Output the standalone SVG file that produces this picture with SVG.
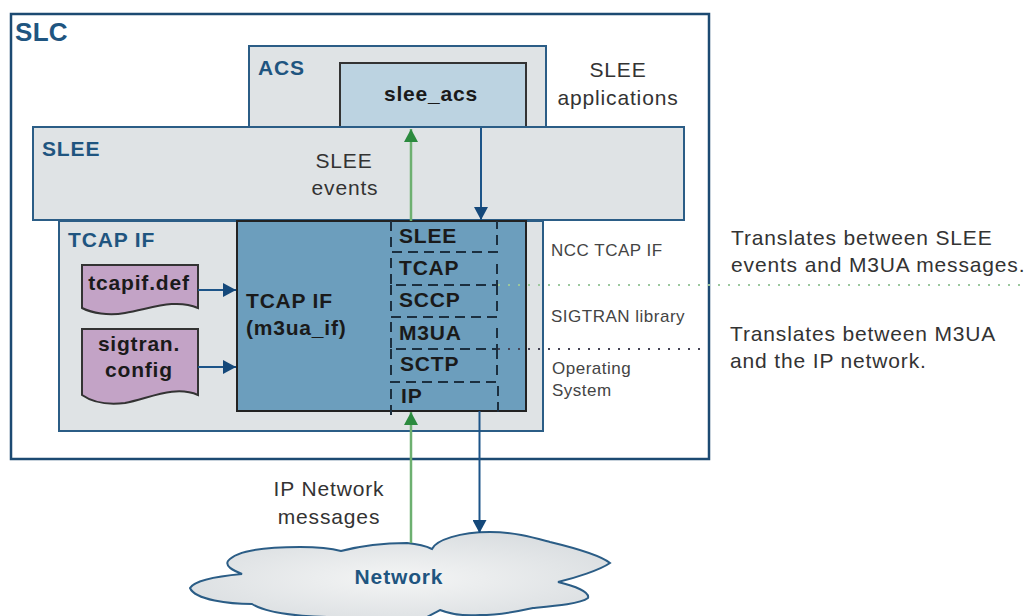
<svg xmlns="http://www.w3.org/2000/svg" width="1026" height="616" viewBox="0 0 1026 616">
<defs>
<marker id="ab" markerUnits="userSpaceOnUse" markerWidth="14" markerHeight="14" refX="13" refY="7" orient="auto"><path d="M0,0 L13,7 L0,14 Z" fill="#14487a"/></marker>
<marker id="ag" markerUnits="userSpaceOnUse" markerWidth="14" markerHeight="14" refX="13" refY="7" orient="auto"><path d="M0,0 L13,7 L0,14 Z" fill="#2b8a3e"/></marker>
<radialGradient id="cg" cx="0.5" cy="0.55" r="0.6"><stop offset="0" stop-color="#f4f5f5"/><stop offset="1" stop-color="#d9dde0"/></radialGradient>
</defs>
<style>
text{font-family:"Liberation Sans",Arial,sans-serif;}
.box{fill:#dfe3e5;stroke:#2b5d86;stroke-width:2;}
.t{font-size:21px;fill:#333;letter-spacing:0.85px;}
.s{font-size:17px;fill:#444;letter-spacing:0.5px;}
.h{font-size:21px;font-weight:bold;fill:#1f5580;letter-spacing:0.85px;}
.b{font-size:21px;font-weight:bold;fill:#1a1a1a;letter-spacing:0.8px;}
.doc{fill:#c3a3c6;stroke:#333;stroke-width:2;}
.dash{fill:none;stroke:#1c2f3f;stroke-width:2;stroke-dasharray:10 6;}
.blue{fill:none;stroke:#1c5488;stroke-width:2;}
.green{fill:none;stroke:#6db070;stroke-width:2.5;}
</style>
<g id="slc"><rect x="11" y="14" width="698" height="445" fill="#fff" stroke="#1c4a72" stroke-width="2.5"/><text x="15" y="41" font-size="26" font-weight="bold" fill="#1f5580" letter-spacing="0.3">SLC</text></g>
<g id="acs"><rect class="box" x="249" y="46" width="297" height="82"/><text class="h" x="258" y="75">ACS</text></g>
<g id="slee_acs"><rect x="340" y="63" width="186" height="64" fill="#bcd3e1" stroke="#333" stroke-width="2"/><text class="b" x="431" y="101" text-anchor="middle">slee_acs</text></g>
<g id="tcapif"><rect class="box" x="59" y="221" width="484" height="210"/><text class="h" x="68" y="247">TCAP IF</text></g>
<g id="slee"><rect class="box" x="33" y="127" width="651" height="93"/><text class="h" x="42" y="156">SLEE</text><text class="t" x="344" y="168" text-anchor="middle">SLEE</text><text class="t" x="345" y="195" text-anchor="middle">events</text></g>
<g id="m3ua_if"><rect x="237" y="221" width="289" height="190" fill="#6c9ebd" stroke="#222" stroke-width="2"/><text class="b" x="246" y="308">TCAP IF</text><text class="b" x="246" y="335">(m3ua_if)</text></g>
<g id="stack">
<path class="dash" d="M391,221 V252 H497 V221"/>
<path class="dash" d="M391,258 V285 H497 V258"/>
<path class="dash" d="M391,285 V317 H497 V285"/>
<path class="dash" d="M391,322 V349 H497 V322"/>
<path class="dash" d="M391,349 V381"/>
<path class="dash" d="M497,349 V381"/>
<path class="dash" d="M391,415 V382 H498 V415"/>
<text class="b" x="399" y="243">SLEE</text><text class="b" x="399" y="275">TCAP</text><text class="b" x="399" y="307">SCCP</text><text class="b" x="399" y="340">M3UA</text><text class="b" x="400" y="371">SCTP</text><text class="b" x="401" y="403">IP</text>
</g>
<g id="tcapif_def"><path class="doc" d="M82,265 H198 V308 C175,298 150,309 125,313 C108,316 92,313 82,308 Z"/><text class="b" x="139" y="290" text-anchor="middle">tcapif.def</text></g>
<g id="sigtran_config"><path class="doc" d="M82,329 H198 V395 C175,385 150,398 125,403 C108,405 92,402 82,395 Z"/><text class="b" x="139" y="351" text-anchor="middle">sigtran.</text><text class="b" x="139" y="377" text-anchor="middle">config</text></g>
<g id="network"><path d="M190,588 C195,580 220,576 242,574 C232,570 225,566 228,561 C235,552 260,547 300,547 C315,547 330,548 341,551 C360,546 385,543 407,543 C418,544 426,546 432,549 C436,540 460,532 490,532 C515,532 535,538 550,542 C575,548 600,555 610,563 C600,570 575,578 558,582 C575,586 590,592 588,598 C580,604 555,606 533,608 C515,612 495,615 480,615 C465,616 450,614 440,610 L427,617 L327,617 C290,616 265,612 252,604 C230,604 195,600 190,588 Z" fill="url(#cg)" stroke="#2b5d86" stroke-width="2"/><text x="399" y="584" text-anchor="middle" font-size="21" font-weight="bold" fill="#1f5580" letter-spacing="0.85">Network</text></g>
<g id="connectors">
<path class="green" d="M411,543 V412" marker-end="url(#ag)"/>
<path class="green" d="M411,221 V129" marker-end="url(#ag)"/>
<path class="blue" d="M481,128 V220" marker-end="url(#ab)"/>
<path class="blue" d="M479.5,411 V533" marker-end="url(#ab)"/>
<path class="blue" d="M198,290 H236" marker-end="url(#ab)"/>
<path class="blue" d="M198,367 H236" marker-end="url(#ab)"/>
<path d="M498,285 H1026" fill="none" stroke="#9cc89e" stroke-width="2" stroke-dasharray="2 8"/>
<path d="M498,349 H708" fill="none" stroke="#445" stroke-width="2" stroke-dasharray="2 8"/>
</g>
<g id="labels">
<text class="t" x="618" y="77" text-anchor="middle">SLEE</text><text class="t" x="618" y="105" text-anchor="middle">applications</text>
<text class="s" x="551" y="256">NCC TCAP IF</text>
<text class="s" x="551" y="322">SIGTRAN library</text>
<text class="s" x="552" y="374">Operating</text><text class="s" x="552" y="396">System</text>
<text class="t" x="731" y="245">Translates between SLEE</text><text class="t" x="731" y="272">events and M3UA messages.</text>
<text class="t" x="730" y="341">Translates between M3UA</text><text class="t" x="730" y="368">and the IP network.</text>
<text class="t" x="329" y="496" text-anchor="middle">IP Network</text><text class="t" x="329" y="524" text-anchor="middle">messages</text>
</g>
</svg>
